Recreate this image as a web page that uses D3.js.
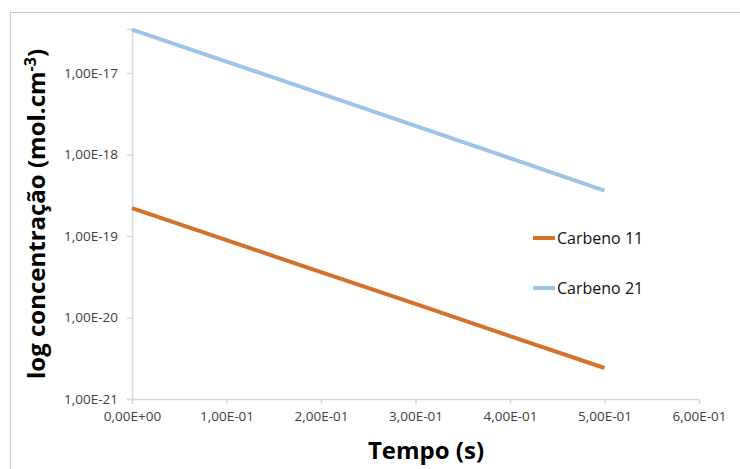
<!DOCTYPE html>
<html>
<head>
<meta charset="utf-8">
<script src="https://cdn.jsdelivr.net/npm/d3@7"></script>
<style>
  body { margin: 0; background: #fff; }
  svg { display: block; font-family: "Open Sans", "Liberation Sans", sans-serif; }
</style>
</head>
<body>
<svg id="chart" width="740" height="469"></svg>
<script>
// Time points (s)
const tempo = [0, 0.1, 0.2, 0.3, 0.4, 0.5];
// Concentrations (mol.cm^-3)
const carbeno11 = [2.2e-19, 8.9e-20, 3.6e-20, 1.47e-20, 5.9e-21, 2.4e-21];
const carbeno21 = [3.4e-17, 1.38e-17, 5.6e-18, 2.25e-18, 9.0e-19, 3.6e-19];
const seriesNames = ["Carbeno 11", "Carbeno 21"];
const seriesColors = ["#d4712b", "#9dc3e6"];
const xTicks = [0, 0.1, 0.2, 0.3, 0.4, 0.5, 0.6];
const xTickLabels = ["0,00E+00", "1,00E-01", "2,00E-01", "3,00E-01", "4,00E-01", "5,00E-01", "6,00E-01"];
const yTicks = [1e-21, 1e-20, 1e-19, 1e-18, 1e-17];
const yTickLabels = ["1,00E-21", "1,00E-20", "1,00E-19", "1,00E-18", "1,00E-17"];

const svg = d3.select("#chart");

// chart frame
svg.append("rect")
  .attr("x", 10.5).attr("y", 12.5)
  .attr("width", 740).attr("height", 470)
  .attr("fill", "none").attr("stroke", "#c8c8c8").attr("stroke-width", 1);

const plotLeft = 132, plotRight = 699, plotTop = 29, plotBottom = 399;

const x = d3.scaleLinear().domain([0, 0.6]).range([plotLeft, plotRight]);
// top of the plot sits a little above the 1e-17 decade
const yMax = Math.pow(10, -17 + (73 - plotTop) / 81.5);
const y = d3.scaleLog().domain([1e-21, yMax]).range([plotBottom, plotTop]);

const axisColor = "#d9d9d9";

// y axis
const yAxis = svg.append("g").attr("transform", `translate(${plotLeft},0)`)
  .call(d3.axisLeft(y).tickValues(yTicks).tickSize(5)
    .tickFormat((d, i) => yTickLabels[i]));
yAxis.select(".domain").attr("stroke", axisColor).attr("stroke-width", 1.5);
yAxis.selectAll(".tick line").attr("stroke", axisColor).attr("stroke-width", 1.5);
yAxis.selectAll(".tick text").attr("x", -14);

// x axis
const xAxis = svg.append("g").attr("transform", `translate(0,${plotBottom})`)
  .call(d3.axisBottom(x).tickValues(xTicks).tickSize(5)
    .tickFormat((d, i) => xTickLabels[i]));
xAxis.select(".domain").attr("stroke", axisColor).attr("stroke-width", 1.5);
xAxis.selectAll(".tick line").attr("stroke", axisColor).attr("stroke-width", 1.5);
xAxis.selectAll(".tick text").attr("y", 12);

svg.selectAll(".tick text")
  .attr("fill", "#404040")
  .attr("font-size", 13.5)
  .style("font-family", "\"Open Sans\", sans-serif");

// series lines
const line = d3.line().x((d, i) => x(tempo[i])).y(d => y(d));
[carbeno11, carbeno21].forEach((vals, k) => {
  svg.append("path").datum(vals)
    .attr("d", line)
    .attr("fill", "none")
    .attr("stroke", seriesColors[k])
    .attr("stroke-width", 4);
});

// legend
const legendY = [238, 288];
seriesNames.forEach((name, k) => {
  svg.append("line")
    .attr("x1", 533).attr("x2", 555)
    .attr("y1", legendY[k]).attr("y2", legendY[k])
    .attr("stroke", seriesColors[k]).attr("stroke-width", 4);
  svg.append("text")
    .attr("x", 557).attr("y", legendY[k])
    .attr("dy", "0.35em")
    .attr("font-size", 16).attr("fill", "#111")
    .text(name);
});

// axis titles
svg.append("text")
  .attr("x", 426).attr("y", 459)
  .attr("text-anchor", "middle")
  .attr("font-size", 24).attr("font-weight", "bold").attr("fill", "#000")
  .text("Tempo (s)");

const yt = svg.append("text")
  .attr("transform", "translate(45,214) rotate(-90)")
  .attr("text-anchor", "middle")
  .attr("font-size", 24).attr("font-weight", "bold").attr("fill", "#000");
yt.append("tspan").text("log concentração (mol.cm");
yt.append("tspan").attr("dy", -9).attr("font-size", 16).text("-3");
yt.append("tspan").attr("dy", 9).text(")");
</script>
</body>
</html>
